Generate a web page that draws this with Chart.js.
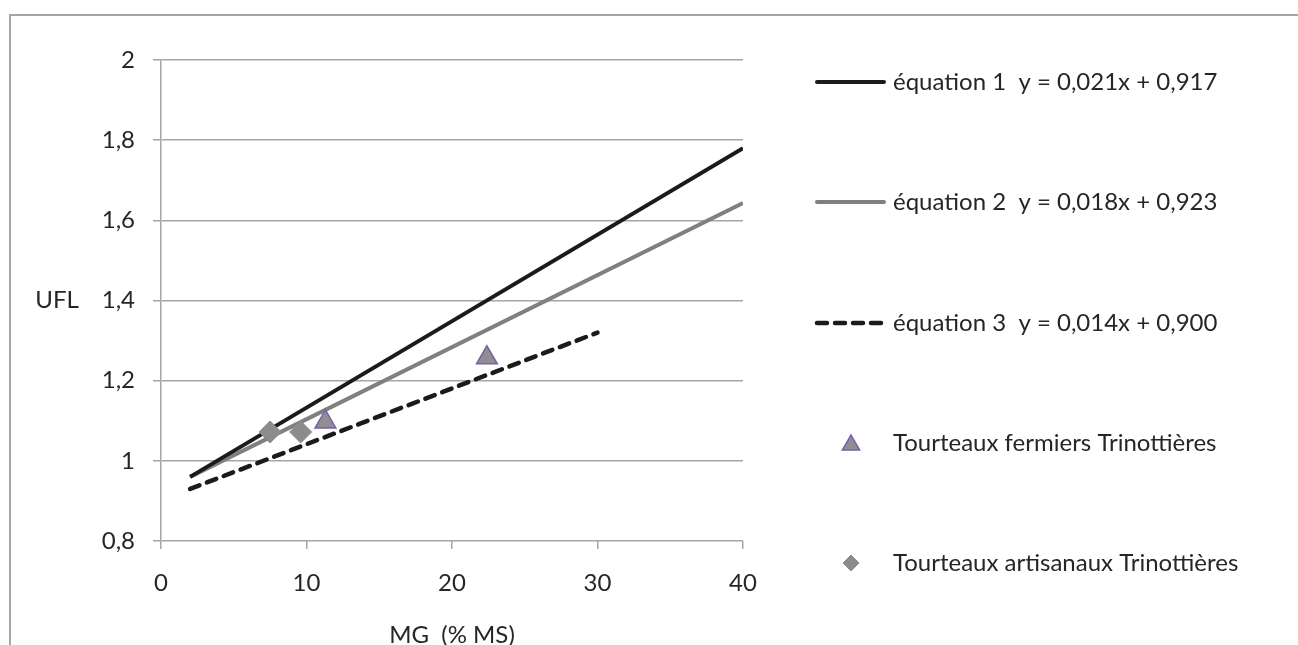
<!DOCTYPE html>
<html>
<head>
<meta charset="utf-8">
<script src="https://cdn.jsdelivr.net/npm/chart.js@4.4.0/dist/chart.umd.min.js"></script>
<style>
    html, body { margin: 0; padding: 0; background: #fff; overflow: hidden; }
    #wrap { width: 1298px; height: 645px; position: relative; }
</style>
</head>
<body>
<div id="wrap"><canvas id="ufl"></canvas></div>
<script>
// data
const eqLabels = [
    'équation 1  y = 0,021x + 0,917',
    'équation 2  y = 0,018x + 0,923',
    'équation 3  y = 0,014x + 0,900'
];
const eq1X = [2, 40];
const eq1Y = [0.96, 1.78];
const eq2X = [2, 40];
const eq2Y = [0.96, 1.643];
const eq3X = [2, 30];
const eq3Y = [0.93, 1.32];

const fermiersLabel = 'Tourteaux fermiers Trinottières';
const fermiersX = [11.3, 22.4];
const fermiersY = [1.097, 1.257];

const artisanauxLabel = 'Tourteaux artisanaux Trinottières';
const artisanauxX = [7.5, 9.6];
const artisanauxY = [1.072, 1.072];

const xTickValues = [0, 10, 20, 30, 40];
const yTickLabels = ['0,8', '1', '1,2', '1,4', '1,6', '1,8', '2'];

const FONT = 'Lato, "DejaVu Sans", sans-serif';
const TEXT = '#262626';
const GRID = '#a6a6a6';

function pts(xs, ys) {
    return xs.map((x, i) => ({ x: x, y: ys[i] }));
}

// frame, axis titles and the legend on the right
const extras = {
    id: 'extras',
    beforeDraw(chart) {
        const ctx = chart.ctx;
        ctx.save();
        ctx.strokeStyle = GRID;
        ctx.lineWidth = 2;
        ctx.beginPath();
        ctx.moveTo(10, 660);
        ctx.lineTo(10, 15);
        ctx.lineTo(1310, 15);
        ctx.stroke();
        ctx.restore();
    },
    afterDraw(chart) {
        const ctx = chart.ctx;
        const area = chart.chartArea;
        ctx.save();
        ctx.fillStyle = TEXT;
        ctx.font = '24px ' + FONT;
        ctx.textBaseline = 'middle';
        ctx.textAlign = 'center';
        ctx.fillText('UFL', 57, chart.scales.y.getPixelForValue(1.4));
        ctx.fillText('MG  (% MS)', (area.left + area.right) / 2, 635);

        // legend
        const rows = [82, 202, 323, 443, 563];
        const x0 = 815, x1 = 886, tx = 893;
        ctx.textAlign = 'left';
        const ds = chart.data.datasets;
        for (let i = 0; i < 3; i++) {
            ctx.save();
            ctx.strokeStyle = ds[i].borderColor;
            ctx.lineWidth = ds[i].borderWidth;
            ctx.lineCap = 'round';
            ctx.setLineDash(ds[i].borderDash || []);
            ctx.beginPath();
            ctx.moveTo(x0 + 2, rows[i]);
            ctx.lineTo(x1 - 2, rows[i]);
            ctx.stroke();
            ctx.restore();
            ctx.fillText(eqLabels[i], tx, rows[i]);
        }
        const mk = [
            { ds: ds[3], r: 10, row: rows[3] },
            { ds: ds[4], r: 8, row: rows[4] }
        ];
        mk.forEach(m => {
            ctx.save();
            ctx.fillStyle = m.ds.backgroundColor;
            ctx.strokeStyle = m.ds.borderColor;
            ctx.lineWidth = m.ds.borderWidth;
            Chart.helpers.drawPoint(ctx, { pointStyle: m.ds.pointStyle, radius: m.r, borderWidth: m.ds.borderWidth, rotation: 0 }, 851, m.row + (m.ds.pointStyle === 'triangle' ? 2 : 0));
            ctx.restore();
            ctx.fillText(m.ds.label, tx, m.row);
        });
        ctx.restore();
    }
};

const ctx = document.getElementById('ufl').getContext('2d');
const chart = new Chart(ctx, {
    type: 'scatter',
    data: {
        datasets: [
            {
                label: eqLabels[0], data: pts(eq1X, eq1Y), showLine: true,
                borderColor: '#1c1a1b', borderWidth: 4, pointRadius: 0, order: 2
            },
            {
                label: eqLabels[1], data: pts(eq2X, eq2Y), showLine: true,
                borderColor: '#808080', borderWidth: 4, pointRadius: 0, order: 3
            },
            {
                label: eqLabels[2], data: pts(eq3X, eq3Y), showLine: true,
                borderColor: '#1c1a1b', borderWidth: 4.5, borderDash: [10, 8], borderCapStyle: 'round',
                pointRadius: 0, order: 4
            },
            {
                label: fermiersLabel, data: pts(fermiersX, fermiersY),
                pointStyle: 'triangle', pointRadius: 12, backgroundColor: '#8f8f93',
                borderColor: '#7a5fa6', borderWidth: 1.5, order: 1
            },
            {
                label: artisanauxLabel, data: pts(artisanauxX, artisanauxY),
                pointStyle: 'rectRot', pointRadius: 11, backgroundColor: '#8c8c8e',
                borderColor: '#8c8c8e', borderWidth: 1, order: 0
            }
        ]
    },
    options: {
        responsive: true,
        maintainAspectRatio: false,
        animation: false,
        events: [],
        layout: { padding: { left: 0, top: 60, right: 555, bottom: 0 } },
        plugins: {
            legend: { display: false },
            tooltip: { enabled: false }
        },
        scales: {
            x: {
                type: 'linear',
                min: 0, max: 40,
                afterBuildTicks: (s) => { s.ticks = xTickValues.map(v => ({ value: v })); },
                afterFit: (s) => { s.height = 104; },
                grid: { drawOnChartArea: false, drawTicks: true, tickLength: 8, color: GRID, lineWidth: 1.5 },
                border: { display: false },
                ticks: { color: TEXT, font: { family: FONT, size: 24 }, padding: 20, maxRotation: 0 }
            },
            y: {
                type: 'linear',
                min: 0.8, max: 2,
                ticks: {
                    stepSize: 0.2, color: TEXT, font: { family: FONT, size: 24 }, padding: 18,
                    callback: (v, i) => yTickLabels[i]
                },
                afterFit: (s) => { s.width = 161; },
                grid: { color: GRID, lineWidth: 1.5, tickLength: 8 },
                border: { color: GRID, width: 1.5 }
            }
        }
    },
    plugins: [extras]
});
</script>
</body>
</html>
